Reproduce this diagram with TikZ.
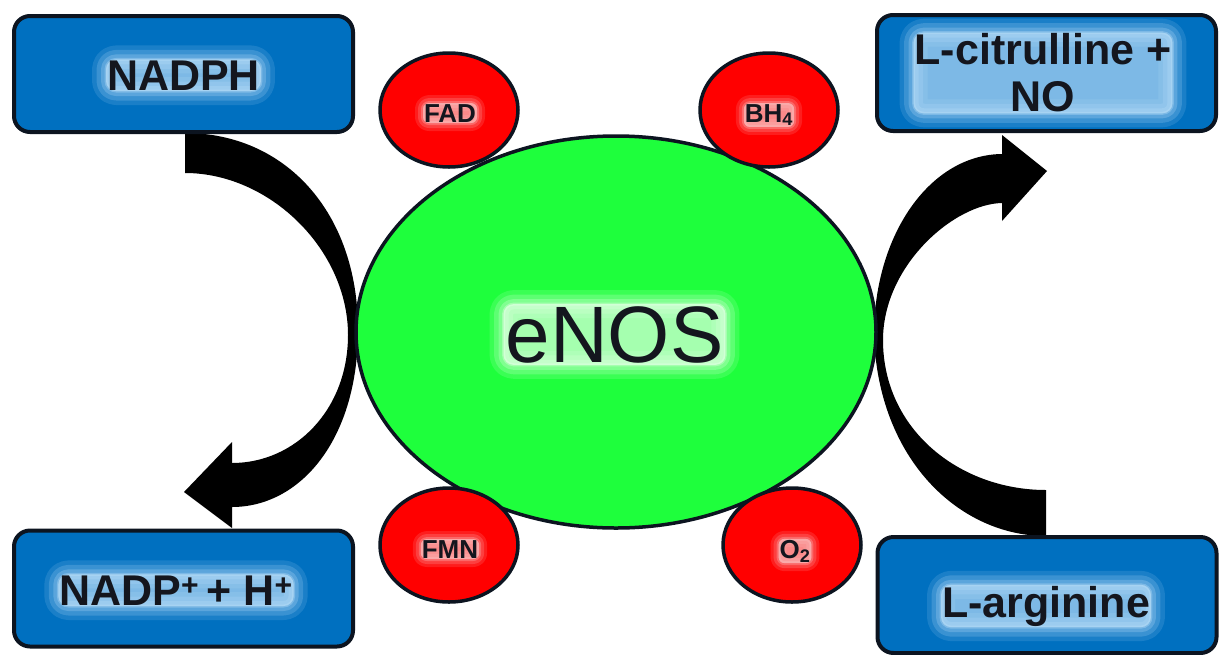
\documentclass[tikz,border=0pt]{standalone}
\usepackage{fontspec}
\setmainfont{Liberation Sans}
\usetikzlibrary{shapes.geometric}
\definecolor{boxblue}{RGB}{0,112,192}
\definecolor{edgecol}{RGB}{12,20,32}
\definecolor{enosgreen}{RGB}{30,255,60}
\definecolor{cofred}{RGB}{255,0,0}
\definecolor{blueglow}{RGB}{190,225,250}
\definecolor{redglow}{RGB}{250,200,200}
\definecolor{greenglow}{RGB}{235,255,235}
\definecolor{txt}{RGB}{20,22,30}
\tikzset{
  glow/.style={rounded corners=10pt,
    preaction={draw=#1,fill=#1,line width=28pt,opacity=0.14,line join=round},
    preaction={draw=#1,fill=#1,line width=19pt,opacity=0.2,line join=round},
    preaction={draw=#1,fill=#1,line width=10pt,opacity=0.25,line join=round},
    preaction={draw=#1,fill=#1,line width=3pt,opacity=0.35,line join=round}},
  smallglow/.style={rounded corners=6pt,
    preaction={draw=#1,fill=#1,line width=16pt,opacity=0.15,line join=round},
    preaction={draw=#1,fill=#1,line width=10pt,opacity=0.2,line join=round},
    preaction={draw=#1,fill=#1,line width=4pt,opacity=0.3,line join=round},
    preaction={fill=#1,opacity=0.35}},
  boxstyle/.style={draw=edgecol,line width=4pt,fill=boxblue,rounded corners=16pt,
    minimum width=339pt,minimum height=116pt,inner sep=0pt},
  lbl/.style={font=\fontsize{43}{47}\selectfont\bfseries,text=txt,inner sep=1pt,align=center,glow=blueglow},
  cofactor/.style={ellipse,draw=edgecol,line width=3.5pt,fill=cofred,
    minimum width=138pt,minimum height=114pt,inner sep=0pt},
  coflbl/.style={font=\fontsize{26}{28}\selectfont\bfseries,text=txt,inner sep=1pt,smallglow=redglow},
  band/.style={fill=black},
  tip/.style={fill=black}
}
\begin{document}
\begin{tikzpicture}[x=1pt,y=-1pt]
\useasboundingbox (0,0) rectangle (1226,654);
\fill[white] (0,0) rectangle (1226,654);

% curved reaction bands (tapered toward the enzyme)
\coordinate (lTop) at (185,133);
\coordinate (lEnd) at (232,507);
\coordinate (rEnd) at (1046,536);
\coordinate (rTop) at (1003,154);
\fill[band] (lTop) .. controls (285,133) and (358,212) .. (358,330)
   .. controls (358,440) and (300,507) .. (lEnd)
   -- (232,463) .. controls (295,463) and (348,410) .. (348,335)
   .. controls (348,250) and (270,173) .. (185,173) -- cycle;
\fill[tip] (232,442) -- (184,492) -- (232,528) -- cycle;
\fill[band] (rTop) .. controls (930,154) and (874,235) .. (874,335)
   .. controls (878,460) and (960,536) .. (rEnd)
   -- (1046,490) .. controls (960,490) and (883,430) .. (883,340)
   .. controls (883,265) and (955,203) .. (1003,203) -- cycle;
\fill[tip] (1002,135) -- (1047,171) -- (1002,221) -- cycle;

% boxes
\node[boxstyle] (nadph) at (183.5,74) {};
\node[boxstyle] (nadpp) at (183.5,588.5) {};
\node[boxstyle] (citr) at (1046.5,73) {};
\node[boxstyle] (arg) at (1047,595) {};
\node[lbl,anchor=base] (nadphT) at (183.5,90) {NADPH};
\node[lbl,anchor=base] (nadppT) at (176,605) {NADP\textsuperscript{+}\,+ H\textsuperscript{+}};
\node[lbl] (citrT) at (1043,73) {L-citrulline +\\NO};
\node[lbl,anchor=base] (argT) at (1046,617) {L-arginine};

% enzyme
\node[ellipse,draw=edgecol,line width=3.5pt,fill=enosgreen,minimum width=520pt,
      minimum height=392pt,inner sep=0pt] (enos) at (616,332) {};
\node[font=\fontsize{80}{84}\selectfont,text=txt,inner sep=2pt,glow=greenglow,anchor=base]
      (enosT) at (614.5,362) {eNOS};

% cofactors
\node[cofactor] (fad) at (449,110) {};
\node[cofactor] (bh4) at (769,110) {};
\node[cofactor] (fmn) at (449,545) {};
\node[cofactor] (o2) at (792,545) {};
\node[coflbl,anchor=base] (fadT) at (450,122) {FAD};
\node[coflbl,anchor=base] (bh4T) at (769,122) {BH\textsubscript{4}};
\node[coflbl,anchor=base] (fmnT) at (450,558) {FMN};
\node[coflbl,anchor=base] (o2T) at (795,558) {O\textsubscript{2}};
\end{tikzpicture}
\end{document}
